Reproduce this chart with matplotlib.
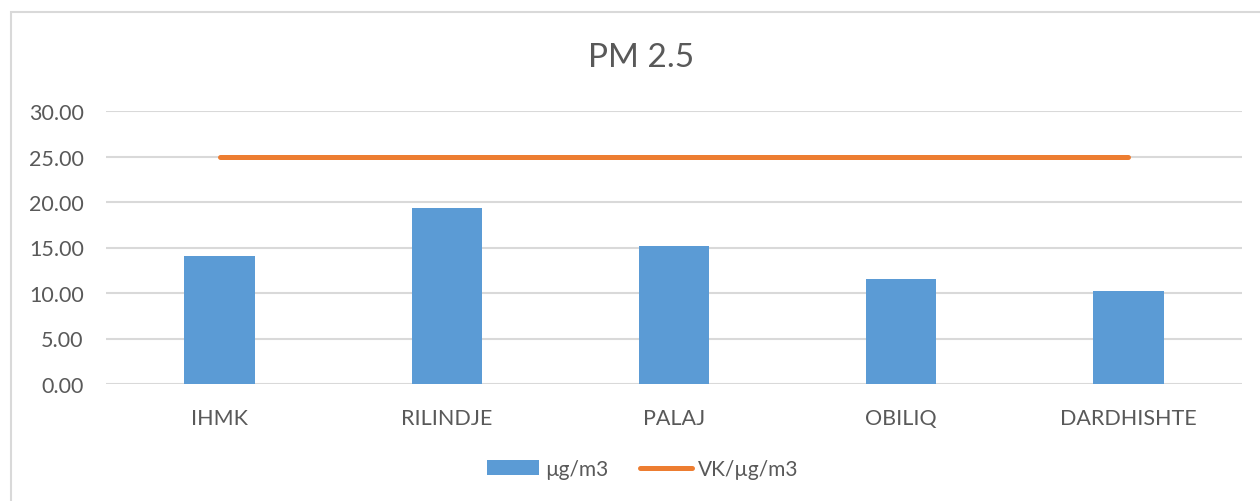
import matplotlib
matplotlib.use('Agg')
import matplotlib.pyplot as plt
from matplotlib.patches import Rectangle
from matplotlib.lines import Line2D
from matplotlib.patches import Patch

plt.rcParams['font.family'] = ['Lato', 'DejaVu Sans']

# data
stations = ['IHMK', 'RILINDJE', 'PALAJ', 'OBILIQ', 'DARDHISHTE']
pm25 = [14.05, 19.3, 15.2, 11.5, 10.2]
limit = [25, 25, 25, 25, 25]
yticks = [0, 5, 10, 15, 20, 25, 30]

txt = '#595959'
grid = '#d9d9d9'
blue = '#5b9bd5'
orange = '#ed7d31'

fig = plt.figure(figsize=(12.6, 5.02), dpi=100)

# chart border (only top and left visible in the crop)
fig.patches.append(Rectangle((11 / 1260, -0.1), 1.2, 1 - 13 / 502 + 0.1,
                             transform=fig.transFigure, fill=False,
                             edgecolor=grid, linewidth=1.5))

ax = fig.add_axes([106 / 1260, 1 - 385 / 502, 1136 / 1260, 273 / 502])
x = list(range(len(stations)))
ax.bar(x, pm25, width=0.31, color=blue, zorder=2)
ax.plot(x, limit, color=orange, linewidth=3.6, solid_capstyle='round', zorder=3)

ax.set_xlim(-0.5, len(stations) - 0.5)
ax.set_ylim(0, 30)
ax.set_yticks(yticks)
ax.set_yticklabels(['%.2f' % v for v in yticks])
ax.set_xticks(x)
ax.set_xticklabels(stations)
ax.tick_params(axis='both', length=0, labelsize=15.5, colors=txt)
ax.tick_params(axis='y', pad=16)
ax.tick_params(axis='x', pad=17)
for s in ax.spines.values():
    s.set_visible(False)
ax.yaxis.grid(True, color=grid, linewidth=1.5, zorder=0)
ax.set_axisbelow(True)

fig.text(641 / 1260, 1 - 58 / 502, 'PM 2.5', ha='center', va='center', fontsize=24, color=txt)

handles = [Patch(facecolor=blue, edgecolor='none'),
           Line2D([0], [0], color=orange, linewidth=3.6, solid_capstyle='round')]
leg = fig.legend(handles, ['µg/m3', 'VK/µg/m3'], loc='center',
                 bbox_to_anchor=(643 / 1260, 1 - 470 / 502), ncol=2, frameon=False,
                 fontsize=15, handlelength=2.5, handletextpad=0.3, columnspacing=1.5)
for t in leg.get_texts():
    t.set_color(txt)

fig.savefig('out.png', dpi=100)
